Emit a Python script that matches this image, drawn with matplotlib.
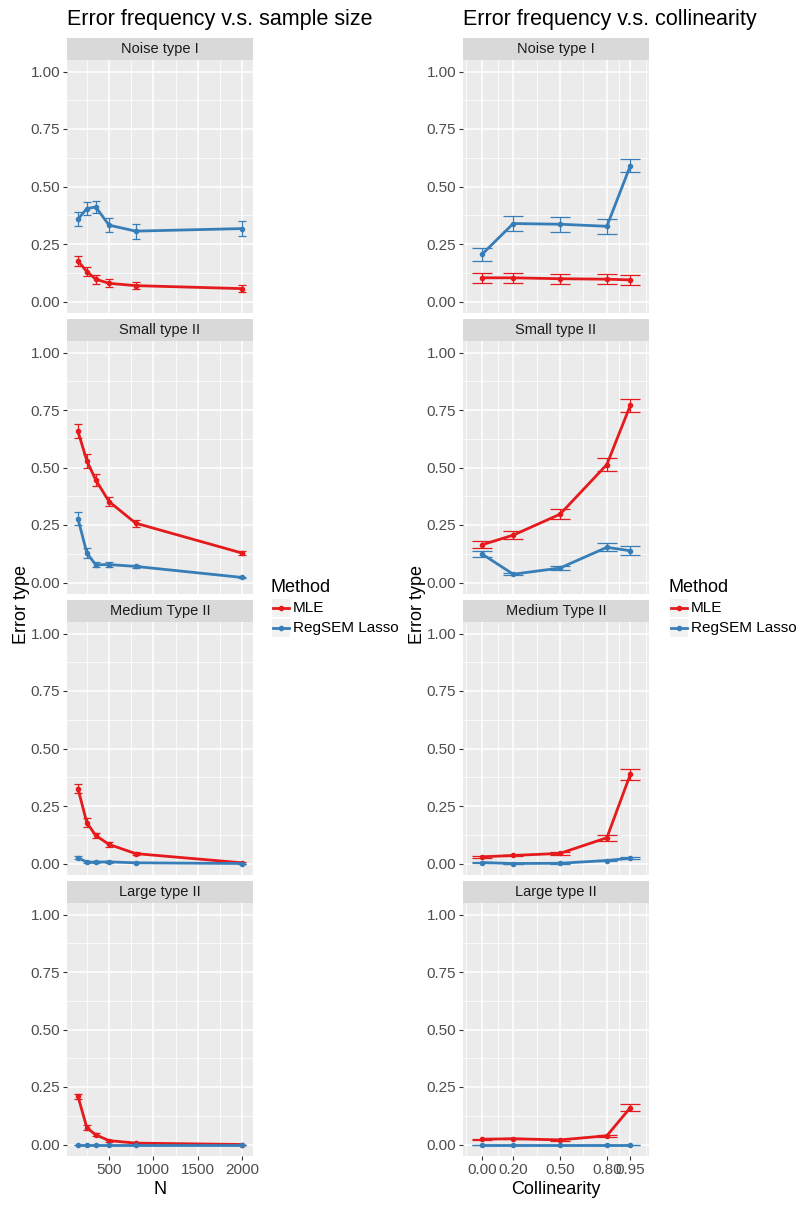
import numpy as np
import matplotlib.pyplot as plt

plt.rcParams['font.family'] = ['Liberation Sans', 'DejaVu Sans']

facets = ['Noise type I', 'Small type II', 'Medium Type II', 'Large type II']
methods = ['MLE', 'RegSEM Lasso']
colors = {'MLE': '#E41A1C', 'RegSEM Lasso': '#377EB8'}

# left column: error frequency by sample size
n_sizes = [150, 250, 350, 500, 800, 2000]
n_mle = [[0.176, 0.130, 0.097, 0.079, 0.069, 0.056],
         [0.657, 0.529, 0.446, 0.352, 0.258, 0.128],
         [0.325, 0.177, 0.122, 0.083, 0.043, 0.003],
         [0.209, 0.073, 0.042, 0.017, 0.006, 0.000]]
n_mle_err = [[0.020, 0.020, 0.020, 0.018, 0.016, 0.015],
             [0.030, 0.030, 0.025, 0.020, 0.015, 0.010],
             [0.020, 0.020, 0.012, 0.010, 0.006, 0.003],
             [0.010, 0.010, 0.006, 0.004, 0.002, 0.000]]
n_lasso = [[0.358, 0.404, 0.411, 0.332, 0.306, 0.317],
           [0.277, 0.128, 0.077, 0.078, 0.070, 0.022],
           [0.025, 0.006, 0.006, 0.007, 0.003, 0.000],
           [0.000, 0.000, 0.000, 0.000, 0.000, 0.000]]
n_lasso_err = [[0.030, 0.030, 0.027, 0.030, 0.033, 0.033],
               [0.028, 0.020, 0.010, 0.010, 0.006, 0.003],
               [0.006, 0.003, 0.003, 0.003, 0.002, 0.000],
               [0.000, 0.000, 0.000, 0.000, 0.000, 0.000]]

# right column: error frequency by collinearity
collin = [0.0, 0.2, 0.5, 0.8, 0.95]
c_mle = [[0.103, 0.103, 0.099, 0.097, 0.094],
         [0.164, 0.206, 0.297, 0.513, 0.770],
         [0.029, 0.035, 0.044, 0.112, 0.387],
         [0.023, 0.025, 0.020, 0.038, 0.160]]
c_mle_err = [[0.022, 0.022, 0.022, 0.022, 0.022],
             [0.015, 0.016, 0.022, 0.030, 0.027],
             [0.004, 0.004, 0.005, 0.013, 0.026],
             [0.003, 0.003, 0.003, 0.004, 0.016]]
c_lasso = [[0.205, 0.339, 0.336, 0.327, 0.590],
           [0.124, 0.036, 0.063, 0.153, 0.138],
           [0.004, 0.000, 0.001, 0.013, 0.023],
           [0.000, 0.000, 0.000, 0.000, 0.000]]
c_lasso_err = [[0.028, 0.031, 0.033, 0.033, 0.028],
               [0.012, 0.005, 0.008, 0.017, 0.020],
               [0.002, 0.000, 0.001, 0.003, 0.004],
               [0.000, 0.000, 0.000, 0.000, 0.000]]

W, H = 800, 1206
fig = plt.figure(figsize=(W / 100, H / 100), dpi=100)


def box(x0, y0, x1, y1):
    return [x0 / W, 1 - y1 / H, (x1 - x0) / W, (y1 - y0) / H]


strips = [(38, 60), (319, 341), (600, 622), (881, 903)]
panels = [(60, 313), (341, 594), (622, 875), (903, 1156)]


def draw_column(x0, x1, xs, mle, mle_err, lasso, lasso_err, xlim, xmajor, xminor,
                xlabels, capsize, title, xlabel, lx):
    for i in range(4):
        sax = fig.add_axes(box(x0, strips[i][0], x1, strips[i][1]))
        sax.set_facecolor('#D9D9D9')
        sax.set_xticks([])
        sax.set_yticks([])
        for s in sax.spines.values():
            s.set_visible(False)
        sax.text(0.5, 0.48, facets[i], ha='center', va='center', fontsize=10.5,
                 color='#1A1A1A', transform=sax.transAxes)

        ax = fig.add_axes(box(x0, panels[i][0], x1, panels[i][1]))
        ax.set_facecolor('#EBEBEB')
        for s in ax.spines.values():
            s.set_visible(False)
        ax.set_xlim(*xlim)
        ax.set_ylim(-0.05, 1.05)
        ax.set_yticks([0, 0.25, 0.5, 0.75, 1.0])
        ax.set_yticklabels(['0.00', '0.25', '0.50', '0.75', '1.00'])
        ax.set_yticks([0.125, 0.375, 0.625, 0.875], minor=True)
        ax.set_xticks(xmajor)
        ax.set_xticks(xminor, minor=True)
        ax.grid(which='major', color='white', lw=1.1)
        ax.grid(which='minor', color='white', lw=0.55)
        ax.set_axisbelow(True)
        ax.tick_params(axis='y', which='major', length=3, color='#333333',
                       labelsize=11, labelcolor='#4D4D4D', pad=2)
        ax.tick_params(which='minor', length=0)
        if i < 3:
            ax.tick_params(axis='x', which='major', length=0, labelbottom=False)
        else:
            ax.set_xticklabels(xlabels)
            ax.tick_params(axis='x', which='major', length=3, color='#333333',
                           labelsize=11, labelcolor='#4D4D4D', pad=2)
            ax.set_xlabel(xlabel, fontsize=13, color='black', labelpad=3)

        for m, vals, errs in (('MLE', mle[i], mle_err[i]),
                              ('RegSEM Lasso', lasso[i], lasso_err[i])):
            c = colors[m]
            ax.errorbar(xs, vals, yerr=errs, fmt='none', ecolor=c, elinewidth=0.9,
                        capsize=capsize, capthick=0.9, zorder=3)
            ax.plot(xs, vals, color=c, lw=2.0, marker='o', ms=3.0, zorder=4,
                    label=m)

    fig.text(x0 / W, 1 - 20 / H, title, fontsize=15.5, color='black',
             ha='left', va='center')
    fig.text((x0 - 46) / W, 1 - 605 / H, 'Error type', fontsize=13,
             rotation=90, ha='center', va='center')

    # legend
    fig.text(lx / W, 1 - 587 / H, 'Method', fontsize=13, ha='left', va='center')
    lax = fig.add_axes(box(lx, 598, lx + 130, 638))
    lax.set_xlim(0, 130)
    lax.set_ylim(40, 0)
    lax.axis('off')
    for k, m in enumerate(methods):
        yc = 10 + 20 * k
        lax.add_patch(plt.Rectangle((2, yc - 9), 18, 18, color='#F2F2F2', lw=0))
        lax.plot([3, 19], [yc, yc], color=colors[m], lw=2.0)
        lax.plot([11], [yc], color=colors[m], marker='o', ms=3.0)
        lax.text(23, yc, m, fontsize=11, va='center', ha='left', color='black')


draw_column(67, 253, n_sizes, n_mle, n_mle_err, n_lasso, n_lasso_err,
            (26, 2124), [500, 1000, 1500, 2000], [250, 750, 1250, 1750],
            ['500', '1000', '1500', '2000'], 2.9,
            'Error frequency v.s. sample size', 'N', 270)

draw_column(463, 649, collin, c_mle, c_mle_err, c_lasso, c_lasso_err,
            (-0.122, 1.07), collin, [-0.1, 0.1, 0.35, 0.65, 0.875, 1.05],
            ['0.00', '0.20', '0.50', '0.80', '0.95'], 7.5,
            'Error frequency v.s. collinearity', 'Collinearity', 668)

fig.savefig('out.png', dpi=100)
